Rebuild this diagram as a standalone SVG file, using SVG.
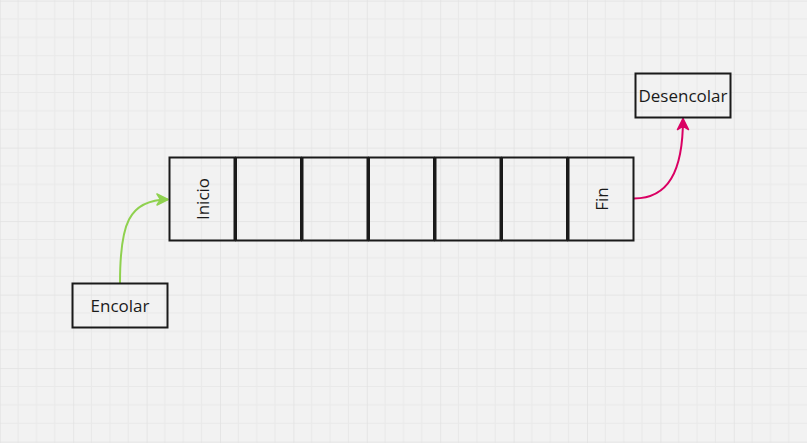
<svg xmlns="http://www.w3.org/2000/svg" width="807" height="443" viewBox="0 0 807 443">
<style>
.cell{fill:none;stroke:#1a1a1a;stroke-width:2}
.box{fill:none;stroke:#1a1a1a;stroke-width:2}
.lbl{font-family:"Open Sans","Liberation Sans",sans-serif;font-size:17px;fill:#1a1a1a;text-anchor:middle;dominant-baseline:central}
.minor{stroke:#e9e9e9;stroke-width:1}
.major{stroke:#e1e1e1;stroke-width:1.5}
</style>
<defs>
<pattern id="grid" patternUnits="userSpaceOnUse" x="-0.2" y="0.6" width="73.4" height="73.5">
<rect width="73.4" height="73.5" fill="#f2f2f2"/>
<path class="minor" d="M18.35,0V73.5M36.7,0V73.5M55.05,0V73.5M0,18.375H73.4M0,36.75H73.4M0,55.125H73.4"/>
<path class="major" d="M0,0V73.5M0,0H73.4"/>
</pattern>
<marker id="ag" markerUnits="userSpaceOnUse" viewBox="0 0 14 14" refX="12" refY="7" markerWidth="14" markerHeight="14" orient="auto">
<path d="M1,1.5 L12,7 L1,12.5 L4.5,7 Z" fill="#8fd14f" stroke="#8fd14f" stroke-width="1.5" stroke-linejoin="round"/>
</marker>
<marker id="ap" markerUnits="userSpaceOnUse" viewBox="0 0 14 14" refX="12" refY="7" markerWidth="14" markerHeight="14" orient="auto">
<path d="M1,1.5 L12,7 L1,12.5 L4.5,7 Z" fill="#da0063" stroke="#da0063" stroke-width="1.5" stroke-linejoin="round"/>
</marker>
</defs>
<rect width="807" height="443" fill="url(#grid)"/>
<g id="connectors">
<path d="M120,283 C120,225 128,199.5 168,199.5" fill="none" stroke="#8fd14f" stroke-width="2" marker-end="url(#ag)"/>
<path d="M634,198.5 C668,198.5 683,172 683,118.5" fill="none" stroke="#da0063" stroke-width="2" marker-end="url(#ap)"/>
</g>
<g id="cell-inicio"><rect class="cell" x="169.5" y="157.5" width="65" height="83"/><text class="lbl" transform="translate(202,199) rotate(-90)">Inicio</text></g>
<g id="cell-2"><rect class="cell" x="236" y="157.5" width="65" height="83"/></g>
<g id="cell-3"><rect class="cell" x="302.5" y="157.5" width="65" height="83"/></g>
<g id="cell-4"><rect class="cell" x="369" y="157.5" width="65" height="83"/></g>
<g id="cell-5"><rect class="cell" x="435.5" y="157.5" width="65" height="83"/></g>
<g id="cell-6"><rect class="cell" x="502" y="157.5" width="65" height="83"/></g>
<g id="cell-fin"><rect class="cell" x="568.5" y="157.5" width="65" height="83"/><text class="lbl" transform="translate(601,199) rotate(-90)">Fin</text></g>
<g id="encolar"><rect class="box" x="72.5" y="283.5" width="95" height="44"/><text class="lbl" x="120" y="305">Encolar</text></g>
<g id="desencolar"><rect class="box" x="635.5" y="73.5" width="95" height="44"/><text class="lbl" x="683" y="95">Desencolar</text></g>
</svg>
